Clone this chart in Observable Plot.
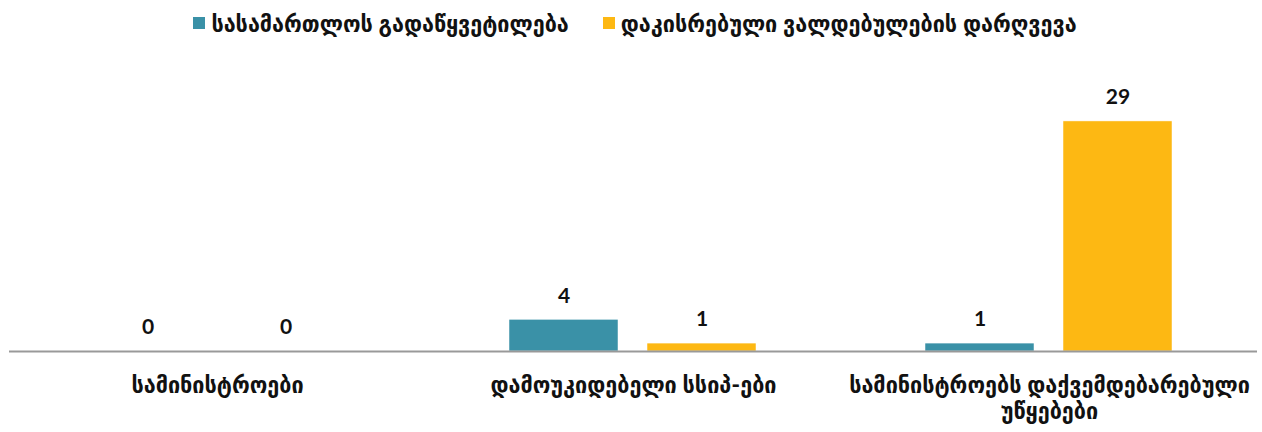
<!DOCTYPE html>
<html>
<head>
<meta charset="utf-8">
<script src="https://cdn.jsdelivr.net/npm/d3@7"></script>
<script src="https://cdn.jsdelivr.net/npm/@observablehq/plot@0.6"></script>
<style>
  body { margin: 0; background: #fff; font-family: Lato, "DejaVu Sans Condensed", "DejaVu Sans", sans-serif; }
  #legend { height: 45px; display: flex; justify-content: center; align-items: center; gap: 34px; font-weight: bold; font-size: 24px; color: #111; padding-left: 8px; box-sizing: border-box; }
  #legend span.item { display: inline-flex; align-items: center; }
  #legend i { display: inline-block; width: 12px; height: 12px; margin-right: 6px; }
</style>
</head>
<body>
<div id="legend"></div>
<div id="chart"></div>
<script>
const categories = ["სამინისტროები", "დამოუკიდებელი სსიპ-ები", "სამინისტროებს დაქვემდებარებული უწყებები"];
const seriesNames = ["სასამართლოს გადაწყვეტილება", "დაკისრებული ვალდებულების დარღვევა"];
const courtDecisions = [0, 4, 1];
const obligationBreaches = [0, 1, 29];
const colors = ["#3a91a7", "#fdb813"];

const data = [];
categories.forEach((c, i) => {
  data.push({cat: c, series: seriesNames[0], value: courtDecisions[i]});
  data.push({cat: c, series: seriesNames[1], value: obligationBreaches[i]});
});

const legend = document.getElementById("legend");
seriesNames.forEach((s, i) => {
  const el = document.createElement("span");
  el.className = "item";
  el.innerHTML = `<i style="background:${colors[i]}"></i>${s}`;
  legend.appendChild(el);
});

const wrap = d => d.length > 25 ? d.replace(/ (\S+)$/, "\n$1") : d;

const chart = Plot.plot({
  width: 1262,
  height: 387,
  marginLeft: 8,
  marginRight: 5,
  marginTop: 68,
  marginBottom: 81,
  style: {fontFamily: 'Lato, "DejaVu Sans Condensed", "DejaVu Sans", sans-serif', background: "#fff"},
  fx: {domain: categories, padding: 0, label: null},
  x: {domain: seriesNames, paddingInner: 0.21, paddingOuter: 0.612, axis: null},
  y: {domain: [0, 30], axis: null},
  color: {domain: seriesNames, range: colors},
  marks: [
    Plot.barY(data, {fx: "cat", x: "series", y: "value", fill: "series", stroke: "white", strokeWidth: 0.5}),
    Plot.ruleY([0], {stroke: "#999", strokeWidth: 2}),
    Plot.text(data, {fx: "cat", x: "series", y: "value", text: d => String(d.value), dy: -24, fontSize: 21, fontWeight: "bold", fill: "#111"}),
    Plot.axisFx({anchor: "bottom", tickSize: 0, tickPadding: 22, fontSize: 24, fontWeight: "bold", lineHeight: 1.12, tickFormat: wrap, label: null, fill: "#111"})
  ]
});
document.getElementById("chart").appendChild(chart);
</script>
</body>
</html>
